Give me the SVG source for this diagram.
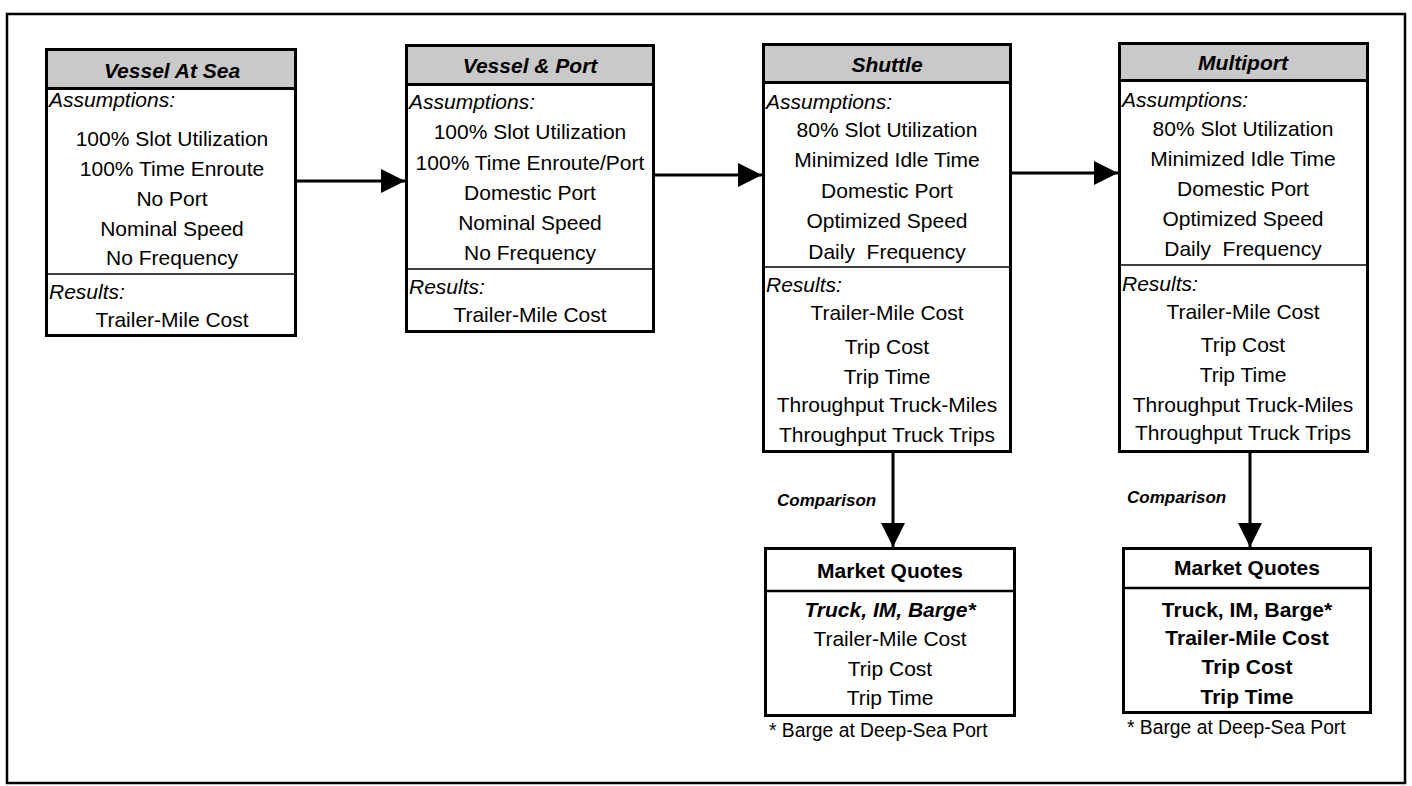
<svg xmlns="http://www.w3.org/2000/svg" width="1412" height="786" viewBox="0 0 1412 786">
<style>
text{font-family:"Liberation Sans",Arial,sans-serif;fill:#000}
.t{font-size:21px;text-anchor:middle}
.lbl{font-size:21px;font-style:italic}
.hd{font-size:21px;font-weight:bold;font-style:italic;text-anchor:middle}
.mq{font-size:21px;font-weight:bold;text-anchor:middle}
.cmp{font-size:17px;font-weight:bold;font-style:italic}
.fn{font-size:19.3px}
.box{fill:#fff;stroke:#000;stroke-width:3}
.hdr{fill:#c9c9c9;stroke:#000;stroke-width:3}
.div{stroke:#000;stroke-width:1.5}
.div2{stroke:#000;stroke-width:2.5}
.con{stroke:#000;stroke-width:3;fill:none}
</style>
<defs>
<marker id="ah" markerUnits="userSpaceOnUse" markerWidth="25" markerHeight="26" refX="24" refY="13" orient="auto">
<path d="M0,1 L24,13 L0,25 z" fill="#000"/>
</marker>
</defs>
<rect x="0" y="0" width="1412" height="786" fill="#fff"/>
<rect x="7" y="14" width="1398" height="769" fill="none" stroke="#000" stroke-width="2.5"/>

<g id="connectors">
<path class="con" d="M297,181 H405" marker-end="url(#ah)"/>
<path class="con" d="M655,175 H762" marker-end="url(#ah)"/>
<path class="con" d="M1012,173 H1118" marker-end="url(#ah)"/>
<path class="con" d="M893,453 V547" marker-end="url(#ah)"/>
<path class="con" d="M1250,453 V547" marker-end="url(#ah)"/>
<text class="cmp" x="777" y="506">Comparison</text>
<text class="cmp" x="1127" y="503">Comparison</text>
</g>

<g id="vessel-at-sea">
<rect class="box" x="46.5" y="49.5" width="249" height="286"/>
<rect class="hdr" x="46.5" y="49.5" width="249" height="39"/>
<line class="div" x1="46" y1="274" x2="296" y2="274"/>
<text class="hd" x="172" y="78">Vessel At Sea</text>
<text class="lbl" x="49" y="107">Assumptions:</text>
<text class="t" x="172" y="146">100% Slot Utilization</text>
<text class="t" x="172" y="176">100% Time Enroute</text>
<text class="t" x="172" y="206">No Port</text>
<text class="t" x="172" y="236">Nominal Speed</text>
<text class="t" x="172" y="265">No Frequency</text>
<text class="lbl" x="49" y="299">Results:</text>
<text class="t" x="172" y="327">Trailer-Mile Cost</text>
</g>

<g id="vessel-port">
<rect class="box" x="406.5" y="45.5" width="247" height="286"/>
<rect class="hdr" x="406.5" y="45.5" width="247" height="39"/>
<line class="div" x1="406" y1="269" x2="654" y2="269"/>
<text class="hd" x="530" y="73">Vessel &amp; Port</text>
<text class="lbl" x="409" y="109">Assumptions:</text>
<text class="t" x="530" y="139">100% Slot Utilization</text>
<text class="t" x="530" y="170">100% Time Enroute/Port</text>
<text class="t" x="530" y="200">Domestic Port</text>
<text class="t" x="530" y="230">Nominal Speed</text>
<text class="t" x="530" y="260">No Frequency</text>
<text class="lbl" x="409" y="294">Results:</text>
<text class="t" x="530" y="322">Trailer-Mile Cost</text>
</g>

<g id="shuttle">
<rect class="box" x="763.5" y="44.5" width="247" height="407"/>
<rect class="hdr" x="763.5" y="44.5" width="247" height="38"/>
<line class="div" x1="763" y1="267" x2="1011" y2="267"/>
<text class="hd" x="887" y="72">Shuttle</text>
<text class="lbl" x="766" y="109">Assumptions:</text>
<text class="t" x="887" y="137">80% Slot Utilization</text>
<text class="t" x="887" y="167">Minimized Idle Time</text>
<text class="t" x="887" y="198">Domestic Port</text>
<text class="t" x="887" y="228">Optimized Speed</text>
<text class="t" x="887" y="259" xml:space="preserve">Daily  Frequency</text>
<text class="lbl" x="766" y="292">Results:</text>
<text class="t" x="887" y="320">Trailer-Mile Cost</text>
<text class="t" x="887" y="354">Trip Cost</text>
<text class="t" x="887" y="384">Trip Time</text>
<text class="t" x="887" y="412">Throughput Truck-Miles</text>
<text class="t" x="887" y="442">Throughput Truck Trips</text>
</g>

<g id="multiport">
<rect class="box" x="1119.5" y="43.5" width="248" height="408"/>
<rect class="hdr" x="1119.5" y="43.5" width="248" height="37"/>
<line class="div" x1="1119" y1="265" x2="1368" y2="265"/>
<text class="hd" x="1243" y="70">Multiport</text>
<text class="lbl" x="1122" y="107">Assumptions:</text>
<text class="t" x="1243" y="136">80% Slot Utilization</text>
<text class="t" x="1243" y="166">Minimized Idle Time</text>
<text class="t" x="1243" y="196">Domestic Port</text>
<text class="t" x="1243" y="226">Optimized Speed</text>
<text class="t" x="1243" y="256" xml:space="preserve">Daily  Frequency</text>
<text class="lbl" x="1122" y="291">Results:</text>
<text class="t" x="1243" y="319">Trailer-Mile Cost</text>
<text class="t" x="1243" y="352">Trip Cost</text>
<text class="t" x="1243" y="382">Trip Time</text>
<text class="t" x="1243" y="412">Throughput Truck-Miles</text>
<text class="t" x="1243" y="440">Throughput Truck Trips</text>
</g>

<g id="market-quotes-shuttle">
<rect class="box" x="765.5" y="548.5" width="249" height="167"/>
<line class="div2" x1="765" y1="591" x2="1015" y2="591"/>
<text class="mq" x="890" y="578">Market Quotes</text>
<text class="hd" x="890" y="617">Truck, IM, Barge*</text>
<text class="t" x="890" y="646">Trailer-Mile Cost</text>
<text class="t" x="890" y="676">Trip Cost</text>
<text class="t" x="890" y="705">Trip Time</text>
<text class="fn" x="769" y="737">* Barge at Deep-Sea Port</text>
</g>

<g id="market-quotes-multiport">
<rect class="box" x="1123.5" y="548.5" width="247" height="164"/>
<line class="div2" x1="1123" y1="588" x2="1371" y2="588"/>
<text class="mq" x="1247" y="575">Market Quotes</text>
<text class="mq" x="1247" y="617">Truck, IM, Barge*</text>
<text class="mq" x="1247" y="645">Trailer-Mile Cost</text>
<text class="mq" x="1247" y="674">Trip Cost</text>
<text class="mq" x="1247" y="704">Trip Time</text>
<text class="fn" x="1127" y="734">* Barge at Deep-Sea Port</text>
</g>
</svg>
